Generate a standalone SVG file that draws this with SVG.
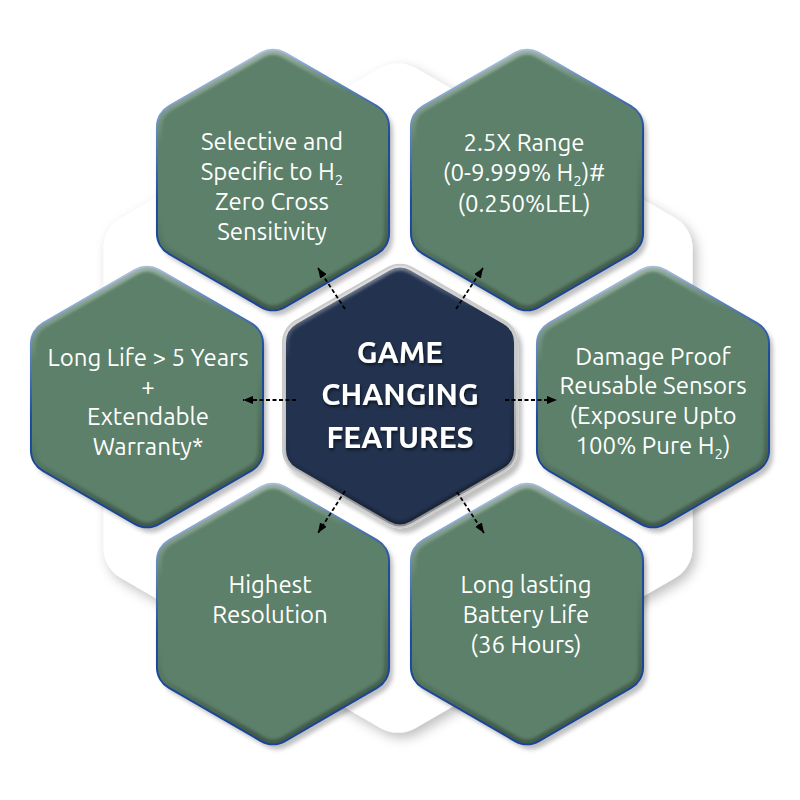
<svg xmlns="http://www.w3.org/2000/svg" xmlns:xlink="http://www.w3.org/1999/xlink" width="800" height="800" viewBox="0 0 800 800">
<defs>
  <path id="hx" d="M-12,-127.07 A24,24 0 0 1 12,-127.07 L104.05,-73.93 A24,24 0 0 1 116.05,-53.14 L116.05,53.14 A24,24 0 0 1 104.05,73.93 L12,127.07 A24,24 0 0 1 -12,127.07 L-104.05,73.93 A24,24 0 0 1 -116.05,53.14 L-116.05,-53.14 A24,24 0 0 1 -104.05,-73.93 Z"/>
  <clipPath id="hc"><use href="#hx"/></clipPath>
  <filter id="bgShadow" x="-10%" y="-10%" width="120%" height="120%">
    <feDropShadow dx="4" dy="5" stdDeviation="6" flood-color="#000" flood-opacity="0.25"/>
  </filter>
  <filter id="hexShadow" x="-10%" y="-10%" width="125%" height="125%">
    <feDropShadow dx="4" dy="5" stdDeviation="2" flood-color="#000" flood-opacity="0.25"/>
  </filter>
  <filter id="soft" x="-10%" y="-10%" width="120%" height="120%">
    <feGaussianBlur stdDeviation="1.5"/>
  </filter>
  <filter id="txtShadow" x="-10%" y="-20%" width="120%" height="150%">
    <feDropShadow dx="1" dy="2" stdDeviation="1.5" flood-color="#000" flood-opacity="0.6"/>
  </filter>
  <linearGradient id="rim" x1="0" y1="0" x2="0.25" y2="1">
    <stop offset="0" stop-color="#d6e2ee"/>
    <stop offset="0.3" stop-color="#5f86bf"/>
    <stop offset="0.55" stop-color="#1d4a9c"/>
    <stop offset="1" stop-color="#1a4496"/>
  </linearGradient>
  <linearGradient id="bevel" x1="0" y1="0" x2="0.25" y2="1">
    <stop offset="0" stop-color="#ffffff" stop-opacity="0.6"/>
    <stop offset="0.35" stop-color="#ffffff" stop-opacity="0"/>
    <stop offset="0.6" stop-color="#000000" stop-opacity="0"/>
    <stop offset="1" stop-color="#000000" stop-opacity="0.3"/>
  </linearGradient>
  <marker id="arrow" markerUnits="userSpaceOnUse" markerWidth="11" markerHeight="9" refX="10" refY="4" orient="auto">
    <path d="M0,0 L10,4 L0,8 Z" fill="#000"/>
  </marker>
</defs>
<style>
  .hex { fill: #5b8069; }
  .bev { fill: none; stroke: url(#bevel); stroke-width: 10; filter: url(#soft); }
  .rim { fill: none; stroke: url(#rim); stroke-width: 2; }
  .lbl { font-family: "Ubuntu", "Open Sans", "Noto Sans", sans-serif; font-size: 24px; fill: #ffffff; text-anchor: middle; }
  .sub { font-size: 15px; }
  .ctr { fill: #24324f; stroke: #cbcbcb; stroke-width: 4; }
  .ctxt { font-family: "Ubuntu", "Open Sans", "Noto Sans", sans-serif; font-weight: bold; font-size: 30px; fill: #ffffff; text-anchor: middle; filter: url(#txtShadow); }
  .conn { stroke: #000; stroke-width: 1.8; stroke-dasharray: 4 2.5; fill: none; marker-end: url(#arrow); }
</style>
<rect width="800" height="800" fill="#ffffff"/>
<path id="backdrop" filter="url(#bgShadow)" fill="#ffffff" d="M380.5,68.1 A35,35 0 0 1 415.5,68.1 L674.95,217.9 A35,35 0 0 1 692.45,248.2 L692.45,547.8 A35,35 0 0 1 674.95,578.1 L415.5,727.9 A35,35 0 0 1 380.5,727.9 L121.05,578.1 A35,35 0 0 1 103.55,547.8 L103.55,248.2 A35,35 0 0 1 121.05,217.9 Z"/>

<g id="node-selective" transform="translate(273,180)">
  <g filter="url(#hexShadow)"><use href="#hx" class="hex"/></g>
  <use href="#hx" class="bev" clip-path="url(#hc)"/>
  <use href="#hx" class="rim"/>
  <text class="lbl"><tspan x="-1" y="-30">Selective and</tspan><tspan x="-1" y="0">Specific to H<tspan class="sub" dy="5">2</tspan></tspan><tspan x="-1" y="30">Zero Cross</tspan><tspan x="-1" y="60">Sensitivity</tspan></text>
</g>

<g id="node-range" transform="translate(527,180)">
  <g filter="url(#hexShadow)"><use href="#hx" class="hex"/></g>
  <use href="#hx" class="bev" clip-path="url(#hc)"/>
  <use href="#hx" class="rim"/>
  <text class="lbl"><tspan x="-3" y="-29">2.5X Range</tspan><tspan x="-3" y="1">(0-9.999% H<tspan class="sub" dy="5">2</tspan><tspan dy="-5">)#</tspan></tspan><tspan x="-3" y="32">(0.250%LEL)</tspan></text>
</g>

<g id="node-life" transform="translate(147,397)">
  <g filter="url(#hexShadow)"><use href="#hx" class="hex"/></g>
  <use href="#hx" class="bev" clip-path="url(#hc)"/>
  <use href="#hx" class="rim"/>
  <text class="lbl"><tspan x="1" y="-31">Long Life &gt; 5 Years</tspan><tspan x="1" y="-2">+</tspan><tspan x="1" y="28">Extendable</tspan><tspan x="1" y="58">Warranty*</tspan></text>
</g>

<g id="node-damage" transform="translate(653,397)">
  <g filter="url(#hexShadow)"><use href="#hx" class="hex"/></g>
  <use href="#hx" class="bev" clip-path="url(#hc)"/>
  <use href="#hx" class="rim"/>
  <text class="lbl"><tspan x="0" y="-32">Damage Proof</tspan><tspan x="0" y="-3">Reusable Sensors</tspan><tspan x="0" y="27">(Exposure Upto</tspan><tspan x="0" y="57">100% Pure H<tspan class="sub" dy="5">2</tspan><tspan dy="-5">)</tspan></tspan></text>
</g>

<g id="node-resolution" transform="translate(273,614)">
  <g filter="url(#hexShadow)"><use href="#hx" class="hex"/></g>
  <use href="#hx" class="bev" clip-path="url(#hc)"/>
  <use href="#hx" class="rim"/>
  <text class="lbl"><tspan x="-3" y="-21">Highest</tspan><tspan x="-3" y="9">Resolution</tspan></text>
</g>

<g id="node-battery" transform="translate(527,614)">
  <g filter="url(#hexShadow)"><use href="#hx" class="hex"/></g>
  <use href="#hx" class="bev" clip-path="url(#hc)"/>
  <use href="#hx" class="rim"/>
  <text class="lbl"><tspan x="-1" y="-21">Long lasting</tspan><tspan x="-1" y="9">Battery Life</tspan><tspan x="-1" y="39">(36 Hours)</tspan></text>
</g>

<g id="node-center" transform="translate(400,396)">
  <g filter="url(#hexShadow)"><use href="#hx" class="ctr"/></g>
  <use href="#hx" class="bev" clip-path="url(#hc)"/>
  <text class="ctxt"><tspan x="0" y="-33">GAME</tspan><tspan x="0" y="9">CHANGING</tspan><tspan x="0" y="52">FEATURES</tspan></text>
</g>

<g id="connectors">
  <line class="conn" x1="345" y1="309" x2="318" y2="268"/>
  <line class="conn" x1="456" y1="309" x2="483" y2="268"/>
  <line class="conn" x1="296" y1="400" x2="243" y2="400"/>
  <line class="conn" x1="505" y1="400" x2="557" y2="400"/>
  <line class="conn" x1="345" y1="491" x2="318" y2="533"/>
  <line class="conn" x1="457" y1="492" x2="484" y2="533"/>
</g>
</svg>
